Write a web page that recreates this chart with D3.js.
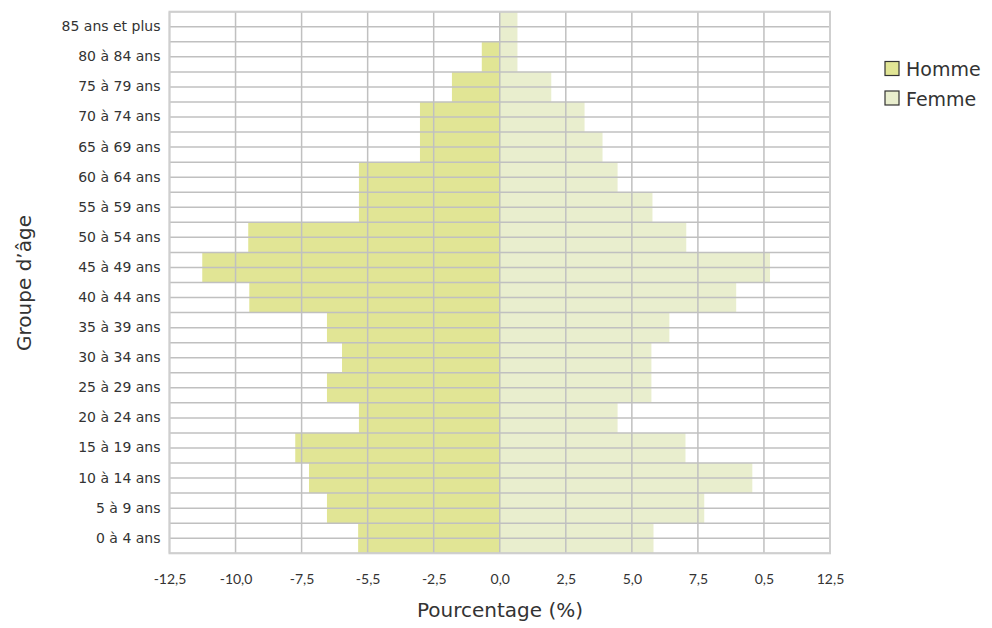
<!DOCTYPE html>
<html><head><meta charset="utf-8">
<script src="https://cdn.jsdelivr.net/npm/d3@7"></script>
<style>
body{margin:0;background:#fff;}
text{font-family:"DejaVu Sans",sans-serif;fill:#333;}
</style></head>
<body>
<svg id="c" width="992" height="628"></svg>
<script>
const categories = ["85 ans et plus","80 à 84 ans","75 à 79 ans","70 à 74 ans","65 à 69 ans","60 à 64 ans","55 à 59 ans","50 à 54 ans","45 à 49 ans","40 à 44 ans","35 à 39 ans","30 à 34 ans","25 à 29 ans","20 à 24 ans","15 à 19 ans","10 à 14 ans","5 à 9 ans","0 à 4 ans"];
const homme = [0, -0.68, -1.81, -3.02, -3.02, -5.33, -5.33, -9.52, -11.26, -9.48, -6.54, -5.97, -6.54, -5.33, -7.74, -7.22, -6.54, -5.36];
const femme = [0.67, 0.67, 1.95, 3.21, 3.89, 4.46, 5.78, 7.06, 10.23, 8.95, 6.42, 5.74, 5.74, 4.46, 7.03, 9.56, 7.74, 5.82];
const tickValues = [-12.5,-10,-7.5,-5,-2.5,0,2.5,5,7.5,10,12.5];
const tickLabels = ["-12,5","-10,0","-7,5","-5,5","-2,5","0,0","2,5","5,0","7,5","0,5","12,5"];
const seriesNames = ["Homme","Femme"];
const colors = ["#e1e595","#e9eece"];

const svg = d3.select("#c");
const L=169.5, R=830, T=11.7, B=553.3;
const x = d3.scaleLinear().domain([-12.5,12.5]).range([L,R]);
const y = d3.scaleBand().domain(categories).range([T,B]).padding(0);

// bars
const g = svg.append("g");
g.selectAll("rect.h").data(categories).join("rect")
  .attr("x",(d,i)=>x(Math.min(0,homme[i]))).attr("y",d=>y(d))
  .attr("width",(d,i)=>Math.abs(x(homme[i])-x(0))).attr("height",y.bandwidth())
  .attr("fill",colors[0]);
g.selectAll("rect.f").data(categories).join("rect")
  .attr("x",x(0)).attr("y",d=>y(d))
  .attr("width",(d,i)=>x(femme[i])-x(0)).attr("height",y.bandwidth())
  .attr("fill",colors[1]);

// grid
const grid = svg.append("g").attr("stroke","#c0c0c0").attr("stroke-width",1.5);
const hLines = [];
categories.forEach(c=>{hLines.push(y(c)); hLines.push(y(c)+y.bandwidth()/2);});
hLines.push(B);
grid.selectAll("line.h").data(hLines).join("line")
  .attr("x1",L).attr("x2",R).attr("y1",d=>d).attr("y2",d=>d);
grid.selectAll("line.v").data(tickValues).join("line")
  .attr("x1",d=>x(d)).attr("x2",d=>x(d)).attr("y1",T).attr("y2",B);
svg.append("rect").attr("x",L).attr("y",T).attr("width",R-L).attr("height",B-T)
  .attr("fill","none").attr("stroke","#cfcfcf").attr("stroke-width",2);

// x axis labels
const xa = svg.append("g").attr("transform",`translate(0,${B})`)
  .call(d3.axisBottom(x).tickValues(tickValues).tickSize(0).tickPadding(0).tickFormat((d,i)=>tickLabels[i]));
xa.select(".domain").remove();
xa.selectAll("text").attr("dy",0).attr("y",31).attr("font-size",14)
  .style("font-family","Lato, sans-serif").style("fill","#333");

// y axis labels
const ya = svg.append("g").attr("transform",`translate(${L},0)`)
  .call(d3.axisLeft(y).tickSize(0).tickPadding(9));
ya.select(".domain").remove();
ya.selectAll("text").attr("font-size",14).style("fill","#333");

// titles
svg.append("text").attr("x",500).attr("y",617).attr("text-anchor","middle")
  .attr("font-size",20).text("Pourcentage (%)");
svg.append("text").attr("transform","translate(31,283) rotate(-90)").attr("text-anchor","middle")
  .attr("font-size",20).text("Groupe d’âge");

// legend
const lg = svg.append("g");
seriesNames.forEach((n,i)=>{
  lg.append("rect").attr("x",885).attr("y",61.5+i*29.5).attr("width",14).attr("height",14)
    .attr("fill",colors[i]).attr("stroke","#333").attr("stroke-width",1.2);
  lg.append("text").attr("x",906).attr("y",76+i*29.5).attr("font-size",19).text(n);
});
</script>
</body></html>
